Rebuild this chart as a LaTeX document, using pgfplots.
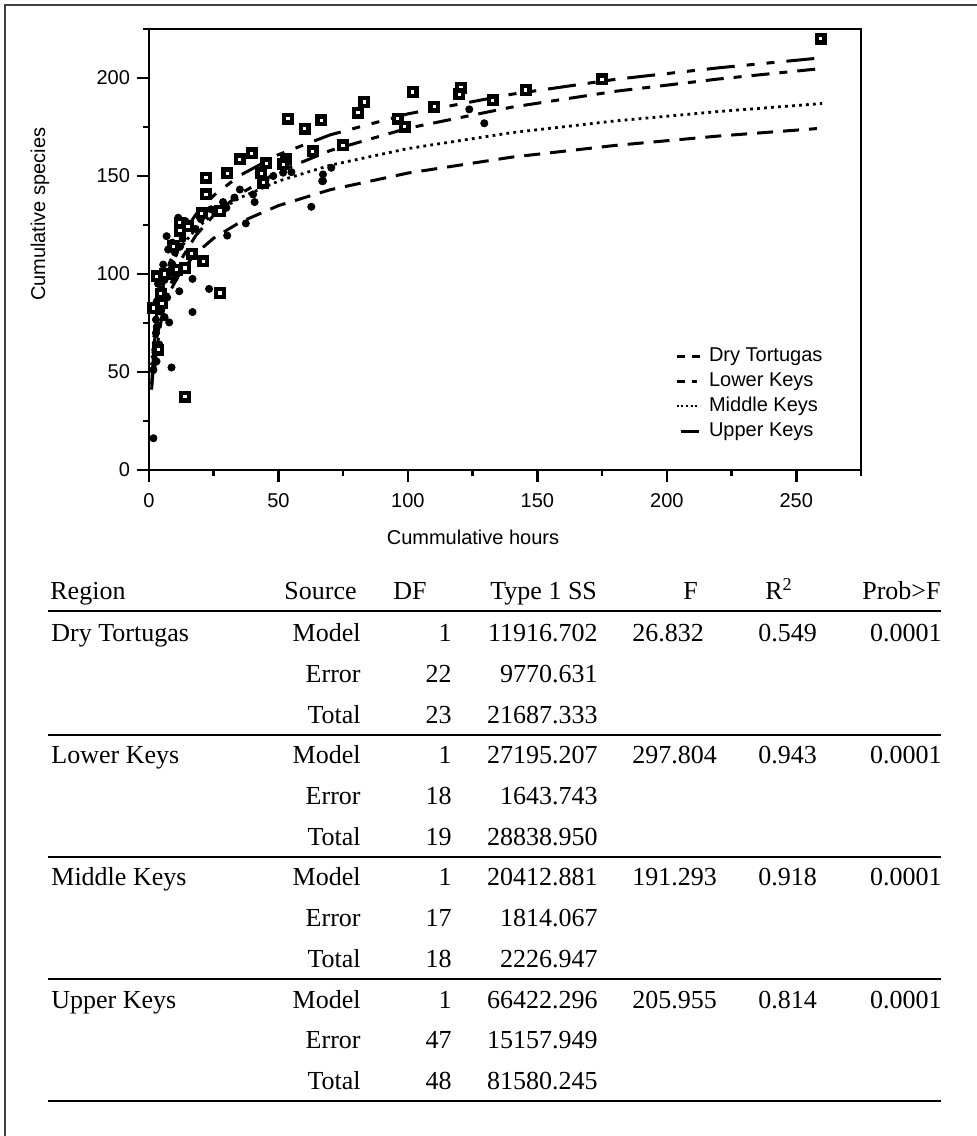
\documentclass[border=0pt]{standalone}
\usepackage{pgfplots}
\pgfplotsset{compat=1.18}
\usepackage{fontspec}
\setmainfont{Liberation Sans}
\newfontfamily\tabfont{Liberation Serif}

\pgfplotstableread{
x y
259.5 220
175 199.4
145.5 193.9
132.7 188.7
120.5 195.1
119.8 191.7
110.2 185.4
101.9 192.9
96.1 179.3
98.7 175.2
83.2 187.8
80.7 182.4
66.5 178.4
60.1 174.2
53.7 179.3
74.9 165.6
63.3 162.7
53 158.5
51.8 156
44.1 146.6
45.3 156.4
43.4 151.3
39.6 161.6
35.1 158.5
30.2 151.3
22 149.1
22 140.6
20.3 130.9
27.4 132.1
11.9 126.1
15.1 124.4
9.4 114.2
16.5 110.4
20.9 106.5
27.4 90.3
13.9 37.5
3 98.8
13.9 103.1
10.7 102.2
1.7 82.7
3.6 61.3
4.5 90
6 100
12 122
5 85
}\squares

\pgfplotstableread{
x y
1.7 16.2
8.7 52.3
16.8 80.6
23.2 92.4
16.8 97.5
11.7 91.2
7.8 75.3
2.7 69.9
62.7 134.3
66.9 147.4
37.4 125.8
30.2 119.6
6.8 119.3
11.3 128.7
7.4 112.5
5.5 104.8
2.7 76.7
4.2 80.9
2.9 55.4
1.7 51.1
123.7 184
129.5 176.9
67.2 150.8
67.2 147.4
70.4 154.2
35.1 143.1
40.2 140.6
40.8 136.7
51.8 151.7
28.6 136.7
29.9 133.8
3.5 95
4.5 100
5 92
6 97
7 88
3 86
8 101
9 105
10 98
4 64
2.5 60
3 73
6 78
9 116
12 114
13 118
10 111
14 127
18 123
20 128
24 133
33 139
48 150
52 154
55 152
45 148
}\dots

\begin{document}
\begin{tikzpicture}
\begin{scope}[x=0.5pt,y=-0.5pt]
\useasboundingbox (0,0) rectangle (977,1136);
\draw[line width=0.9pt, black!75] (5,1140) -- (5,5) -- (980,5);
\end{scope}

\begin{axis}[
  at={(74.5pt,-235pt)}, anchor=south west,
  scale only axis, width=356pt, height=220.5pt,
  xmin=0, xmax=275, ymin=0, ymax=225,
  xtick={0,50,...,250}, ytick={0,50,...,200},
  minor xtick={25,75,...,275}, minor ytick={25,75,...,225},
  tick align=outside, xtick pos=left, ytick pos=left,
  major tick length=6pt, minor tick length=3pt,
  every tick/.style={black, line width=1.3pt},
  axis line style={line width=1.3pt},
  clip=false,
  /pgf/number format/assume math mode=true,
  tick label style={font=\fontsize{10}{12}\selectfont},
  xticklabel style={yshift=-2pt},
  label style={font=\fontsize{10}{12}\selectfont},
  xlabel={Cummulative hours},
  ylabel={Cumulative species},
  x label style={at={(axis description cs:0.455,-0.152)}, anchor=center},
  y label style={at={(axis description cs:-0.153,0.58)}, anchor=center, rotate=0},
  legend image code/.code={\draw[#1] (0pt,0pt) -- (11.5pt,0pt);},
  legend style={at={(axis description cs:0.7388,0.2868)}, anchor=north west,
    draw=none, fill=none, inner sep=0pt, column sep=3pt,
    font=\fontsize{10}{12}\selectfont,
    nodes={inner sep=1pt, text height=8pt, text depth=2.5pt}},
  legend cell align=left,
]
\addplot[only marks, mark=*, mark size=1.8pt, black, forget plot] table[x=x,y=y] {\dots};
\addplot[only marks, mark=square*, mark size=1.9pt, mark options={fill=white, draw=black, line width=2.2pt}, forget plot] table[x=x,y=y] {\squares};

% Dry Tortugas
\addplot[black, line width=1.5pt, dash pattern=on 8pt off 5pt, forget plot] coordinates {
(1,41) (2,57.6) (3,67.4) (5,79.6) (8,90.9) (12,100.6) (18,110.4) (25,118.3) (35,126.3) (50,134.9) (70,143) (100,151.5) (140,159.6) (180,165.6) (220,170.4) (258,174.2)};
% Lower Keys
\addplot[black, line width=1.5pt, dash pattern=on 9pt off 5pt on 4pt off 5pt, forget plot] coordinates {
(2,49.2) (3,62.2) (5,78.5) (8,93.5) (12,106.5) (18,119.5) (25,130) (35,140.8) (50,152.2) (70,163) (100,174.4) (140,185.1) (180,193.2) (220,199.5) (258,204.6)};
% Middle Keys
\addplot[black, line width=1.4pt, dash pattern=on 1.4pt off 2.1pt, forget plot] coordinates {
(1,53.5) (2,70.1) (3,79.9) (5,92.1) (8,103.4) (12,113.1) (18,122.9) (25,130.8) (35,138.8) (50,147.4) (70,155.5) (100,164) (140,172.1) (180,178.1) (220,182.9) (260,187)};
% Upper Keys
\addplot[black, line width=1.5pt, dash pattern=on 14pt off 6pt on 4pt off 6pt on 4pt off 6pt, forget plot] coordinates {
(1,43.5) (2,64.3) (3,76.5) (5,91.8) (8,105.9) (12,118.1) (18,130.2) (25,140.1) (35,150.2) (50,160.9) (70,171) (100,181.7) (140,191.7) (180,199.3) (220,205.2) (259,210.2)};

\addlegendimage{black, line width=1.3pt, dash pattern=on 4pt off 3.5pt}
\addlegendentry{Dry Tortugas}
\addlegendimage{black, line width=1.3pt, dash pattern=on 4pt off 3.5pt on 2.5pt off 5pt}
\addlegendentry{Lower Keys}
\addlegendimage{black, line width=1pt, dash pattern=on 1pt off 1.3pt}
\addlegendentry{Middle Keys}
\addlegendimage{black, line width=1.3pt, dash pattern=on 0pt off 2pt on 9pt off 5pt}
\addlegendentry{Upper Keys}
\end{axis}

\begin{scope}[x=0.5pt,y=-0.5pt, every node/.style={inner sep=0pt, font=\tabfont\fontsize{13}{15}\selectfont}]
\def\trow#1#2#3#4#5#6#7#8{%
 \node[anchor=base west] at (51,#1) {#2};
 \node[anchor=base east] at (361,#1) {#3};
 \node[anchor=base east] at (452,#1) {#4};
 \node[anchor=base east] at (598,#1) {#5};
 \node[anchor=base west] at (632,#1) {#6};
 \node[anchor=base west] at (758,#1) {#7};
 \node[anchor=base east] at (942,#1) {#8};}
\node[anchor=base west] at (50,599) {Region};
\node[anchor=base east] at (357,599) {Source};
\node[anchor=base west] at (393,599) {DF};
\node[anchor=base west] at (490,599) {Type 1 SS};
\node[anchor=base west] at (683,599) {F};
\node[anchor=base west] at (765,599) {R\textsuperscript{2}};
\node[anchor=base east] at (941,599) {Prob>F};
\draw[line width=1pt] (48,610.7) -- (941,610.7);
\trow{641.7}{Dry Tortugas}{Model}{1}{11916.702}{26.832}{0.549}{0.0001}
\trow{682.4}{}{Error}{22}{9770.631}{}{}{}
\trow{723.1}{}{Total}{23}{21687.333}{}{}{}
\draw[line width=1pt] (48,735) -- (941,735);
\trow{763.8}{Lower Keys}{Model}{1}{27195.207}{297.804}{0.943}{0.0001}
\trow{804.5}{}{Error}{18}{1643.743}{}{}{}
\trow{845.2}{}{Total}{19}{28838.950}{}{}{}
\draw[line width=1pt] (48,857) -- (941,857);
\trow{885.9}{Middle Keys}{Model}{1}{20412.881}{191.293}{0.918}{0.0001}
\trow{926.6}{}{Error}{17}{1814.067}{}{}{}
\trow{967.3}{}{Total}{18}{2226.947}{}{}{}
\draw[line width=1pt] (48,979) -- (941,979);
\trow{1008}{Upper Keys}{Model}{1}{66422.296}{205.955}{0.814}{0.0001}
\trow{1048.7}{}{Error}{47}{15157.949}{}{}{}
\trow{1089.4}{}{Total}{48}{81580.245}{}{}{}
\draw[line width=1pt] (48,1101) -- (941,1101);
\end{scope}
\end{tikzpicture}
\end{document}
